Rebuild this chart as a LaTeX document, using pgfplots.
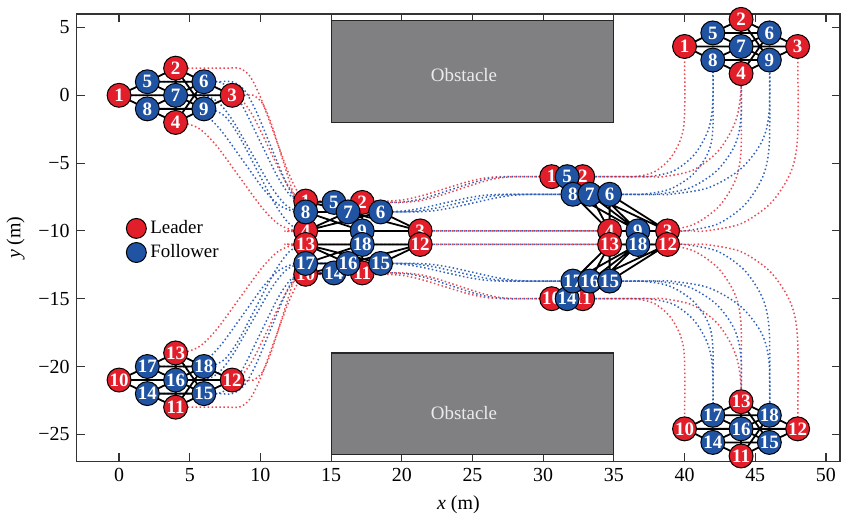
\documentclass[border=0pt]{standalone}
\usepackage{fontspec}
\setmainfont{Liberation Serif}
\usepackage{pgfplots}
\pgfplotsset{compat=1.18}
\definecolor{ledred}{RGB}{226,30,42}
\definecolor{folblue}{RGB}{33,83,163}
\definecolor{trred}{RGB}{236,72,82}
\definecolor{trblue}{RGB}{48,98,188}
\definecolor{obsgray}{RGB}{128,128,130}
\pgfplotsset{
  traj/.style={smooth, tension=0.5, line width=0.75pt, dash pattern=on 0.75pt off 1.25pt, forget plot, mark=none},
  rtraj/.style={traj, color=trred},
  btraj/.style={traj, color=trblue},
  agents/.style={forget plot, scatter, only marks, mark=*, mark size=6pt,
    point meta=explicit symbolic,
    scatter/@pre marker code/.code={\scope},
    scatter/@post marker code/.code={\node[text=white, font=\rmfamily\bfseries\fontsize{9.5}{10}\selectfont, inner sep=0pt] {\pgfplotspointmeta};\endscope}},
}
\begin{document}
\begin{tikzpicture}
\begin{axis}[
  width=383pt, height=224.5pt, scale only axis,
  xmin=-3, xmax=51, ymin=-27, ymax=6,
  xtick={0,5,10,15,20,25,30,35,40,45,50},
  xticklabels={0,5,10,15,20,25,30,35,40,45,50},
  ytick={-25,-20,-15,-10,-5,0,5},
  yticklabels={−25,−20,−15,−10,−5,0,5},
  tick align=inside, major tick length=4pt,
  axis line style={draw=black!80, line width=0.6pt},
  tick style={draw=black!80, line width=0.6pt},
  ticklabel style={font=\rmfamily\fontsize{10}{12}\selectfont},
  label style={font=\rmfamily\fontsize{10}{12}\selectfont},
  xlabel={\textit{x} (m)}, ylabel={\textit{y} (m)},
  clip mode=individual,
  legend cell align=left,
  legend style={at={(0.062,0.553)}, anchor=north west, draw=none, fill=none,
    font=\rmfamily\fontsize{9.5}{11}\selectfont, row sep=0pt, inner sep=1pt},
]
\addlegendimage{only marks, mark=*, mark size=5pt, mark options={draw=black, fill=ledred, line width=0.5pt}}
\addlegendentry{Leader}
\addlegendimage{only marks, mark=*, mark size=5pt, mark options={draw=black, fill=folblue, line width=0.5pt}}
\addlegendentry{Follower}

% obstacles
\addplot[forget plot, fill=obsgray, draw=black!85, line width=0.6pt] coordinates {(15,-2)(35,-2)(35,5.5)(15,5.5)(15,-2)};
\addplot[forget plot, fill=obsgray, draw=black!85, line width=0.6pt] coordinates {(15,-26.5)(35,-26.5)(35,-19)(15,-19)(15,-26.5)};
\node[text=white!92!black, font=\rmfamily\fontsize{9.5}{11}\selectfont] at (axis cs:24.4,1.5) {Obstacle};
\node[text=white!92!black, font=\rmfamily\fontsize{9.5}{11}\selectfont] at (axis cs:24.4,-23.4) {Obstacle};

% trajectories, top group
\addplot[rtraj] coordinates {(0,0)(7,0)(8,0)(8.78,-0.47)(9.56,-1.68)(10.6,-3.9)(11.64,-6.12)(12.42,-7.33)(13.2,-7.8)(14,-7.8)(18,-7.8)(19,-7.8)(20.2,-7.69)(21.4,-7.41)(23,-6.9)(24.6,-6.39)(25.8,-6.11)(27,-6)(28,-6)(30.6,-6)(35.5,-6)(36.5,-6)(37.84,-5.66)(38.97,-4.68)(39.73,-3.22)(40,-1.5)(40,3.6)};
\addplot[rtraj] coordinates {(4,2)(7.5,2)(8.5,2)(9.25,1.41)(10,-0.14)(11,-2.95)(12,-5.76)(12.75,-7.31)(13.5,-7.9)(14.3,-7.9)(17.2,-7.9)(19,-7.9)(20,-7.9)(21.2,-7.79)(22.4,-7.49)(24,-6.95)(25.6,-6.41)(26.8,-6.11)(28,-6)(29,-6)(32.8,-6)(37.5,-6)(38.5,-6)(40.61,-5.51)(42.39,-4.1)(43.58,-1.99)(44,0.5)(44,5.6)};
\addplot[rtraj] coordinates {(8,0)(9,0)(9.5,0)(10.15,-0.6)(10.79,-2.16)(11.65,-5)(12.51,-7.84)(13.16,-9.4)(13.8,-10)(14.6,-10)(21.3,-10)(38.8,-10)(40.5,-10)(41.5,-10)(43.99,-9.47)(46.1,-7.95)(47.51,-5.68)(48,-3)(48,3.6)};
\addplot[rtraj] coordinates {(4,-2)(4.5,-2)(5.7,-2.48)(6.9,-3.73)(8.5,-6)(10.1,-8.27)(11.3,-9.52)(12.5,-10)(13.2,-10)(34.7,-10)(37.5,-10)(38.5,-10)(40.61,-9.54)(42.39,-8.24)(43.58,-6.3)(44,-4)(44,1.6)};
\addplot[btraj] coordinates {(2,1)(6,1)(7,1)(7.9,0.47)(8.8,-0.92)(10,-3.45)(11.2,-5.98)(12.1,-7.37)(13,-7.9)(13.8,-7.9)(15.2,-7.9)(18.5,-7.9)(19.5,-7.9)(20.7,-7.79)(21.9,-7.49)(23.5,-6.95)(25.1,-6.41)(26.3,-6.11)(27.5,-6)(28.5,-6)(31.7,-6)(36.5,-6)(37.5,-6)(39.22,-5.58)(40.68,-4.39)(41.66,-2.61)(42,-0.5)(42,4.6)};
\addplot[btraj] coordinates {(6,1)(7,1)(8,1)(8.83,0.42)(9.65,-1.07)(10.75,-3.8)(11.85,-6.53)(12.68,-8.02)(13.5,-8.6)(14.3,-8.6)(18.5,-8.6)(20,-8.6)(21,-8.6)(22.2,-8.52)(23.4,-8.32)(25,-7.95)(26.6,-7.58)(27.8,-7.38)(29,-7.3)(30,-7.3)(34.7,-7.3)(38,-7.3)(39,-7.3)(41.68,-6.82)(43.95,-5.45)(45.47,-3.41)(46,-1)(46,4.6)};
\addplot[btraj] coordinates {(4,0)(5,0)(6,0)(7.02,-0.52)(8.04,-1.86)(9.4,-4.3)(10.76,-6.74)(11.78,-8.08)(12.8,-8.6)(13.6,-8.6)(16.2,-8.6)(19,-8.6)(20,-8.6)(21.2,-8.52)(22.4,-8.32)(24,-7.95)(25.6,-7.58)(26.8,-7.38)(28,-7.3)(29,-7.3)(33.3,-7.3)(37,-7.3)(38,-7.3)(40.3,-6.86)(42.24,-5.6)(43.54,-3.72)(44,-1.5)(44,3.6)};
\addplot[btraj] coordinates {(2,-1)(4,-1)(5,-1)(6.13,-1.46)(7.25,-2.64)(8.75,-4.8)(10.25,-6.96)(11.38,-8.14)(12.5,-8.6)(13.2,-8.6)(18,-8.6)(19,-8.6)(20.2,-8.52)(21.4,-8.32)(23,-7.95)(24.6,-7.58)(25.8,-7.38)(27,-7.3)(28,-7.3)(32.1,-7.3)(36,-7.3)(37,-7.3)(38.92,-6.94)(40.54,-5.89)(41.62,-4.34)(42,-2.5)(42,2.6)};
\addplot[btraj] coordinates {(6,-1)(6.5,-1)(7.48,-1.54)(8.45,-2.94)(9.75,-5.5)(11.05,-8.06)(12.03,-9.46)(13,-10)(13.8,-10)(17.2,-10)(36.7,-10)(39,-10)(40,-10)(42.3,-9.51)(44.24,-8.1)(45.54,-5.99)(46,-3.5)(46,2.6)};

% trajectories, bottom group
\addplot[rtraj] coordinates {(0,-21)(7,-21)(8,-21)(8.78,-20.53)(9.56,-19.32)(10.6,-17.1)(11.64,-14.88)(12.42,-13.67)(13.2,-13.2)(14,-13.2)(18,-13.2)(19,-13.2)(20.2,-13.31)(21.4,-13.59)(23,-14.1)(24.6,-14.61)(25.8,-14.89)(27,-15)(28,-15)(30.6,-15)(35.5,-15)(36.5,-15)(37.84,-15.34)(38.97,-16.32)(39.73,-17.78)(40,-19.5)(40,-24.6)};
\addplot[rtraj] coordinates {(4,-23)(7.5,-23)(8.5,-23)(9.25,-22.41)(10,-20.86)(11,-18.05)(12,-15.24)(12.75,-13.69)(13.5,-13.1)(14.3,-13.1)(17.2,-13.1)(19,-13.1)(20,-13.1)(21.2,-13.21)(22.4,-13.51)(24,-14.05)(25.6,-14.59)(26.8,-14.89)(28,-15)(29,-15)(32.8,-15)(37.5,-15)(38.5,-15)(40.61,-15.49)(42.39,-16.9)(43.58,-19.01)(44,-21.5)(44,-26.6)};
\addplot[rtraj] coordinates {(8,-21)(9,-21)(9.5,-21)(10.15,-20.4)(10.79,-18.84)(11.65,-16)(12.51,-13.16)(13.16,-11.6)(13.8,-11)(14.6,-11)(21.3,-11)(38.8,-11)(40.5,-11)(41.5,-11)(43.99,-11.53)(46.1,-13.05)(47.51,-15.32)(48,-18)(48,-24.6)};
\addplot[rtraj] coordinates {(4,-19)(4.5,-19)(5.7,-18.52)(6.9,-17.27)(8.5,-15)(10.1,-12.73)(11.3,-11.48)(12.5,-11)(13.2,-11)(34.7,-11)(37.5,-11)(38.5,-11)(40.61,-11.46)(42.39,-12.76)(43.58,-14.7)(44,-17)(44,-22.6)};
\addplot[btraj] coordinates {(2,-22)(6,-22)(7,-22)(7.9,-21.47)(8.8,-20.08)(10,-17.55)(11.2,-15.02)(12.1,-13.63)(13,-13.1)(13.8,-13.1)(15.2,-13.1)(18.5,-13.1)(19.5,-13.1)(20.7,-13.21)(21.9,-13.51)(23.5,-14.05)(25.1,-14.59)(26.3,-14.89)(27.5,-15)(28.5,-15)(31.7,-15)(36.5,-15)(37.5,-15)(39.22,-15.42)(40.68,-16.61)(41.66,-18.39)(42,-20.5)(42,-25.6)};
\addplot[btraj] coordinates {(6,-22)(7,-22)(8,-22)(8.83,-21.42)(9.65,-19.93)(10.75,-17.2)(11.85,-14.47)(12.68,-12.98)(13.5,-12.4)(14.3,-12.4)(18.5,-12.4)(20,-12.4)(21,-12.4)(22.2,-12.48)(23.4,-12.68)(25,-13.05)(26.6,-13.42)(27.8,-13.62)(29,-13.7)(30,-13.7)(34.7,-13.7)(38,-13.7)(39,-13.7)(41.68,-14.18)(43.95,-15.55)(45.47,-17.59)(46,-20)(46,-25.6)};
\addplot[btraj] coordinates {(4,-21)(5,-21)(6,-21)(7.02,-20.48)(8.04,-19.14)(9.4,-16.7)(10.76,-14.26)(11.78,-12.92)(12.8,-12.4)(13.6,-12.4)(16.2,-12.4)(19,-12.4)(20,-12.4)(21.2,-12.48)(22.4,-12.68)(24,-13.05)(25.6,-13.42)(26.8,-13.62)(28,-13.7)(29,-13.7)(33.3,-13.7)(37,-13.7)(38,-13.7)(40.3,-14.14)(42.24,-15.4)(43.54,-17.28)(44,-19.5)(44,-24.6)};
\addplot[btraj] coordinates {(2,-20)(4,-20)(5,-20)(6.13,-19.54)(7.25,-18.36)(8.75,-16.2)(10.25,-14.04)(11.38,-12.86)(12.5,-12.4)(13.2,-12.4)(18,-12.4)(19,-12.4)(20.2,-12.48)(21.4,-12.68)(23,-13.05)(24.6,-13.42)(25.8,-13.62)(27,-13.7)(28,-13.7)(32.1,-13.7)(36,-13.7)(37,-13.7)(38.92,-14.06)(40.54,-15.11)(41.62,-16.66)(42,-18.5)(42,-23.6)};
\addplot[btraj] coordinates {(6,-20)(6.5,-20)(7.48,-19.46)(8.45,-18.06)(9.75,-15.5)(11.05,-12.94)(12.03,-11.54)(13,-11)(13.8,-11)(17.2,-11)(36.7,-11)(39,-11)(40,-11)(42.3,-11.49)(44.24,-12.9)(45.54,-15.01)(46,-17.5)(46,-23.6)};

% formation graph edges
\addplot[forget plot, black, line width=0.9pt, unbounded coords=jump] coordinates {
(0,0)(2,1)(4,2)(6,1)(8,0)(6,-1)(4,-2)(2,-1)(0,0)(nan,nan)
(0,0)(4,0)(8,0)(nan,nan)
(2,1)(4,0)(6,-1)(nan,nan)
(2,-1)(4,0)(6,1)(nan,nan)
(4,2)(4,0)(4,-2)(nan,nan)
(2,1)(6,1)(nan,nan)
(2,-1)(6,-1)(nan,nan)
(4,2)(6,-1)(nan,nan)
(4,-2)(6,1)(nan,nan)
(0,-21)(2,-22)(4,-23)(6,-22)(8,-21)(6,-20)(4,-19)(2,-20)(0,-21)(nan,nan)
(0,-21)(4,-21)(8,-21)(nan,nan)
(2,-22)(4,-21)(6,-20)(nan,nan)
(2,-20)(4,-21)(6,-22)(nan,nan)
(4,-23)(4,-21)(4,-19)(nan,nan)
(2,-22)(6,-22)(nan,nan)
(2,-20)(6,-20)(nan,nan)
(4,-23)(6,-20)(nan,nan)
(4,-19)(6,-22)(nan,nan)
(13.2,-7.8)(15.2,-7.9)(17.2,-7.9)(18.5,-8.6)(21.3,-10)(17.2,-10)(13.2,-10)(13.2,-8.6)(13.2,-7.8)(nan,nan)
(13.2,-7.8)(16.2,-8.6)(21.3,-10)(nan,nan)
(15.2,-7.9)(16.2,-8.6)(17.2,-10)(nan,nan)
(13.2,-8.6)(16.2,-8.6)(18.5,-8.6)(nan,nan)
(17.2,-7.9)(16.2,-8.6)(13.2,-10)(nan,nan)
(15.2,-7.9)(18.5,-8.6)(nan,nan)
(13.2,-8.6)(17.2,-10)(nan,nan)
(17.2,-7.9)(17.2,-10)(nan,nan)
(13.2,-10)(18.5,-8.6)(nan,nan)
(13.2,-13.2)(15.2,-13.1)(17.2,-13.1)(18.5,-12.4)(21.3,-11)(17.2,-11)(13.2,-11)(13.2,-12.4)(13.2,-13.2)(nan,nan)
(13.2,-13.2)(16.2,-12.4)(21.3,-11)(nan,nan)
(15.2,-13.1)(16.2,-12.4)(17.2,-11)(nan,nan)
(13.2,-12.4)(16.2,-12.4)(18.5,-12.4)(nan,nan)
(17.2,-13.1)(16.2,-12.4)(13.2,-11)(nan,nan)
(15.2,-13.1)(18.5,-12.4)(nan,nan)
(13.2,-12.4)(17.2,-11)(nan,nan)
(17.2,-13.1)(17.2,-11)(nan,nan)
(13.2,-11)(18.5,-12.4)(nan,nan)
(30.6,-6)(31.7,-6)(32.8,-6)(34.7,-7.3)(38.8,-10)(36.7,-10)(34.7,-10)(32.1,-7.3)(30.6,-6)(nan,nan)
(30.6,-6)(33.3,-7.3)(38.8,-10)(nan,nan)
(31.7,-6)(33.3,-7.3)(36.7,-10)(nan,nan)
(32.1,-7.3)(33.3,-7.3)(34.7,-7.3)(nan,nan)
(32.8,-6)(33.3,-7.3)(34.7,-10)(nan,nan)
(31.7,-6)(34.7,-7.3)(nan,nan)
(32.1,-7.3)(36.7,-10)(nan,nan)
(32.8,-6)(36.7,-10)(nan,nan)
(34.7,-10)(34.7,-7.3)(nan,nan)
(30.6,-15)(31.7,-15)(32.8,-15)(34.7,-13.7)(38.8,-11)(36.7,-11)(34.7,-11)(32.1,-13.7)(30.6,-15)(nan,nan)
(30.6,-15)(33.3,-13.7)(38.8,-11)(nan,nan)
(31.7,-15)(33.3,-13.7)(36.7,-11)(nan,nan)
(32.1,-13.7)(33.3,-13.7)(34.7,-13.7)(nan,nan)
(32.8,-15)(33.3,-13.7)(34.7,-11)(nan,nan)
(31.7,-15)(34.7,-13.7)(nan,nan)
(32.1,-13.7)(36.7,-11)(nan,nan)
(32.8,-15)(36.7,-11)(nan,nan)
(34.7,-11)(34.7,-13.7)(nan,nan)
(40,3.6)(42,4.6)(44,5.6)(46,4.6)(48,3.6)(46,2.6)(44,1.6)(42,2.6)(40,3.6)(nan,nan)
(40,3.6)(44,3.6)(48,3.6)(nan,nan)
(42,4.6)(44,3.6)(46,2.6)(nan,nan)
(42,2.6)(44,3.6)(46,4.6)(nan,nan)
(44,5.6)(44,3.6)(44,1.6)(nan,nan)
(42,4.6)(46,4.6)(nan,nan)
(42,2.6)(46,2.6)(nan,nan)
(44,5.6)(46,2.6)(nan,nan)
(44,1.6)(46,4.6)(nan,nan)
(40,-24.6)(42,-25.6)(44,-26.6)(46,-25.6)(48,-24.6)(46,-23.6)(44,-22.6)(42,-23.6)(40,-24.6)(nan,nan)
(40,-24.6)(44,-24.6)(48,-24.6)(nan,nan)
(42,-25.6)(44,-24.6)(46,-23.6)(nan,nan)
(42,-23.6)(44,-24.6)(46,-25.6)(nan,nan)
(44,-26.6)(44,-24.6)(44,-22.6)(nan,nan)
(42,-25.6)(46,-25.6)(nan,nan)
(42,-23.6)(46,-23.6)(nan,nan)
(44,-26.6)(46,-23.6)(nan,nan)
(44,-22.6)(46,-25.6)
};

% leaders
\addplot[agents, mark options={draw=black, fill=ledred, line width=0.5pt}] table[meta=lab] {
x y lab
0 0 1
4 2 2
8 0 3
4 -2 4
0 -21 10
4 -23 11
8 -21 12
4 -19 13
13.2 -7.8 1
17.2 -7.9 2
21.3 -10 3
13.2 -10 4
13.2 -13.2 10
17.2 -13.1 11
21.3 -11 12
13.2 -11 13
30.6 -6 1
32.8 -6 2
38.8 -10 3
34.7 -10 4
30.6 -15 10
32.8 -15 11
38.8 -11 12
34.7 -11 13
40 3.6 1
44 5.6 2
48 3.6 3
44 1.6 4
40 -24.6 10
44 -26.6 11
48 -24.6 12
44 -22.6 13
};
% followers
\addplot[agents, mark options={draw=black, fill=folblue, line width=0.5pt}] table[meta=lab] {
x y lab
2 1 5
6 1 6
4 0 7
2 -1 8
6 -1 9
2 -22 14
6 -22 15
4 -21 16
2 -20 17
6 -20 18
13.2 -8.6 8
13.2 -12.4 17
15.2 -7.9 5
15.2 -13.1 14
16.2 -8.6 7
16.2 -12.4 16
17.2 -10 9
17.2 -11 18
18.5 -8.6 6
18.5 -12.4 15
31.7 -6 5
31.7 -15 14
32.1 -7.3 8
32.1 -13.7 17
33.3 -7.3 7
33.3 -13.7 16
34.7 -7.3 6
34.7 -13.7 15
36.7 -10 9
36.7 -11 18
42 4.6 5
46 4.6 6
44 3.6 7
42 2.6 8
46 2.6 9
42 -25.6 14
46 -25.6 15
44 -24.6 16
42 -23.6 17
46 -23.6 18
};
\end{axis}
\path (current axis.north east) ++(5.5pt,7pt);
\end{tikzpicture}
\end{document}
